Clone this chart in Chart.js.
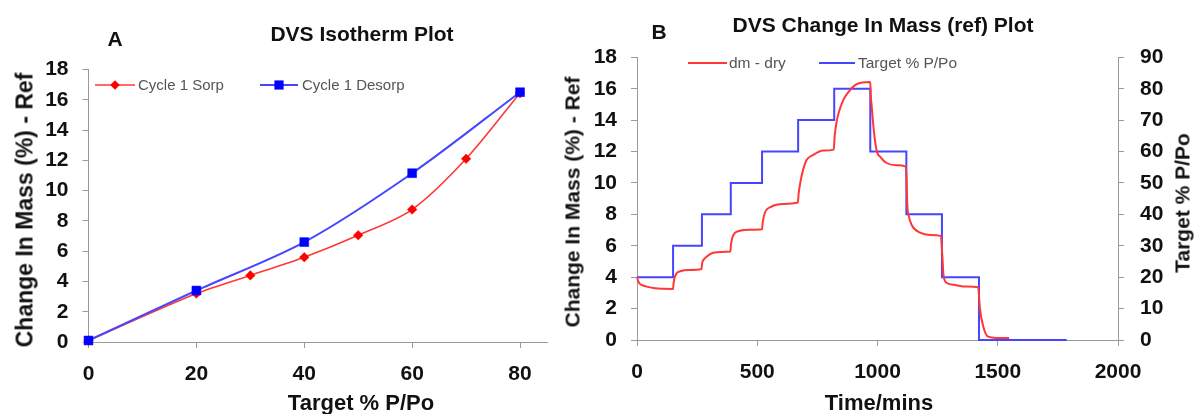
<!DOCTYPE html>
<html>
<head>
<meta charset="utf-8">
<script src="https://cdn.jsdelivr.net/npm/chart.js@4.4.1/dist/chart.umd.min.js"></script>
<style>
  html, body { margin: 0; padding: 0; background: #ffffff; }
  #wrap { position: relative; width: 1195px; height: 414px; overflow: hidden; background: #fff; }
  canvas { position: absolute; top: 0; }
  .t { position: absolute; font-family: "Liberation Sans", Arial, sans-serif; font-weight: bold; color: #111;
       white-space: nowrap; line-height: 1; transform: translate(-50%, -50%); }
  .rot { transform: translate(-50%, -50%) rotate(-90deg); }
</style>
</head>
<body>
<div id="wrap">
  <canvas id="c1" width="560" height="414" style="left:0px"></canvas>
  <canvas id="c2" width="635" height="414" style="left:560px"></canvas>
  <div class="t" style="left:115px;top:38px;font-size:21px">A</div>
  <div class="t" style="left:362px;top:33px;font-size:21px">DVS Isotherm Plot</div>
  <div class="t" style="left:361px;top:403px;font-size:22px">Target % P/Po</div>
  <div class="t rot" style="left:25px;top:210px;font-size:23px">Change In Mass (%) - Ref</div>
  <div class="t" style="left:659px;top:31px;font-size:21px">B</div>
  <div class="t" style="left:883px;top:24px;font-size:21px">DVS Change In Mass (ref) Plot</div>
  <div class="t" style="left:879px;top:403px;font-size:22px">Time/mins</div>
  <div class="t rot" style="left:572px;top:202px;font-size:21px">Change In Mass (%) - Ref</div>
  <div class="t rot" style="left:1182px;top:203px;font-size:21px">Target % P/Po</div>
</div>
<script>
// ---------- Data: chart A (isotherm) ----------
const sorpRH    = [0, 20, 30, 40, 50, 60, 70, 80];
const sorpMass  = [0.1, 3.2, 4.4, 5.6, 7.05, 8.75, 12.1, 16.45];
const desorpRH   = [80, 60, 40, 20, 0];
const desorpMass = [16.5, 11.15, 6.6, 3.4, 0.1];

// ---------- Data: chart B (kinetic) ----------
const dmTime = [0, 5, 12, 25, 40, 75, 110, 150, 152, 156, 165, 180, 214, 268,
  271, 279, 289, 317, 350, 388, 391, 396, 406, 428, 470, 520, 523, 531, 559, 608, 669,
  672, 680, 690, 705, 732, 774, 818, 822, 830, 838, 858, 880, 908, 936, 970,
  972, 976, 985, 996, 1015, 1038, 1080, 1118, 1121, 1124, 1130, 1142, 1177, 1218, 1264,
  1267, 1271, 1274, 1287, 1322, 1371, 1419, 1422, 1426, 1440, 1460, 1494, 1547];
const dmMass = [4.0, 3.75, 3.57, 3.47, 3.4, 3.29, 3.26, 3.25, 3.6, 3.95, 4.25, 4.38, 4.46, 4.52,
  4.9, 5.15, 5.3, 5.56, 5.6, 5.63, 6.1, 6.5, 6.8, 6.96, 7.02, 7.05, 7.5, 8.07, 8.49, 8.66, 8.75,
  9.3, 10.1, 10.8, 11.46, 11.78, 12.06, 12.12, 13.0, 13.9, 14.44, 15.29, 15.8, 16.24, 16.39, 16.42,
  15.6, 14.86, 13.3, 12.1, 11.6, 11.27, 11.12, 11.04, 10.2, 8.6, 7.9, 7.32, 6.83, 6.69, 6.62,
  6.0, 5.0, 4.2, 3.65, 3.5, 3.4, 3.36, 2.8, 2.0, 0.85, 0.21, 0.13, 0.13];
const stepTime   = [0, 150, 270, 390, 520, 670, 820, 970, 1120, 1268, 1422, 1787];
const stepTarget = [20, 30, 40, 50, 60, 70, 80, 60, 40, 20, 0, 0];

// ---------- Tick settings ----------
const ticksA_x = { min: 0, max: 85, step: 20 };
const ticksA_y = { min: 0, max: 18, step: 2 };
const ticksB_x = { min: 0, max: 2000, step: 500 };
const ticksB_y = { min: 0, max: 18, step: 2 };
const ticksB_y2 = { min: 0, max: 90, step: 10 };

const zip = (xs, ys) => xs.map((x, i) => ({ x: x, y: ys[i] }));

const AXIS = '#9a9a9a';
const TICKFONT = { family: '"Liberation Sans", Arial, sans-serif', size: 21, weight: 'bold' };
const RED_LINE = 'rgb(255,55,55)';
const BLUE_LINE = 'rgb(70,70,255)';

function axis(t, extra, pad) {
  return Object.assign({
    type: 'linear', min: t.min, max: t.max,
    ticks: { stepSize: t.step, includeBounds: false, font: TICKFONT, color: '#111', padding: pad || 14,
             callback: (v) => String(v) },
    grid: { display: true, drawOnChartArea: false, drawTicks: true, tickLength: 6, color: AXIS },
    border: { display: true, color: AXIS, width: 1 }
  }, extra);
}

const inlineLegend = {
  id: 'inlineLegend',
  afterDraw(chart, args, opts) {
    if (!opts || !opts.items) return;
    const ctx = chart.ctx;
    ctx.save();
    opts.items.forEach(it => {
      const ds = chart.data.datasets[it.index];
      const y = opts.y;
      ctx.strokeStyle = ds.borderColor;
      ctx.lineWidth = ds.borderWidth;
      ctx.beginPath(); ctx.moveTo(it.x0, y); ctx.lineTo(it.x1, y); ctx.stroke();
      if (it.marker) {
        const cx = (it.x0 + it.x1) / 2;
        ctx.fillStyle = ds.pointBackgroundColor;
        ctx.beginPath();
        if (it.marker === 'diamond') {
          const r = 4.8;
          ctx.moveTo(cx, y - r); ctx.lineTo(cx + r, y); ctx.lineTo(cx, y + r); ctx.lineTo(cx - r, y); ctx.closePath();
        } else {
          const h = 4.6;
          ctx.rect(cx - h, y - h, 2 * h, 2 * h);
        }
        ctx.fill();
      }
      ctx.fillStyle = opts.color;
      ctx.font = opts.font;
      ctx.textBaseline = 'middle';
      ctx.fillText(ds.label, it.tx, y + 1);
    });
    ctx.restore();
  }
};

// ---------- Chart A ----------
new Chart(document.getElementById('c1'), {
  type: 'line',
  data: {
    datasets: [
      { label: 'Cycle 1 Sorp', data: zip(sorpRH, sorpMass), borderColor: RED_LINE, borderWidth: 1.6,
        pointStyle: 'rectRot', pointRadius: 4.8, pointBackgroundColor: '#ff0000', pointBorderColor: '#ff0000',
        pointBorderWidth: 0.5, tension: 0.3, fill: false, order: 2, clip: false },
      { label: 'Cycle 1 Desorp', data: zip(desorpRH, desorpMass), borderColor: BLUE_LINE, borderWidth: 2,
        pointStyle: 'rect', pointRadius: 6.3, pointBackgroundColor: '#0000ff', pointBorderColor: '#0000ff',
        pointBorderWidth: 0.5, tension: 0.3, fill: false, order: 1, clip: false }
    ]
  },
  options: {
    responsive: false, animation: false, devicePixelRatio: 1,
    layout: { padding: { top: 69.5, right: 13, left: 0, bottom: 0 } },
    plugins: {
      legend: { display: false }, tooltip: { enabled: false },
      inlineLegend: {
        y: 85, color: '#555', font: '15px "Liberation Sans", Arial, sans-serif',
        items: [ { index: 0, x0: 95, x1: 135, tx: 138, marker: 'diamond' },
                 { index: 1, x0: 260, x1: 298, tx: 302, marker: 'square' } ]
      }
    },
    scales: {
      x: axis(ticksA_x, { afterFit(s) { s.height = 72; } }),
      y: axis(ticksA_y, { afterFit(s) { s.width = 88.5; } })
    }
  },
  plugins: [inlineLegend]
});

// ---------- Chart B ----------
new Chart(document.getElementById('c2'), {
  type: 'line',
  data: {
    datasets: [
      { label: 'dm - dry', data: zip(dmTime, dmMass), borderColor: RED_LINE, borderWidth: 2,
        pointRadius: 0, cubicInterpolationMode: 'monotone', fill: false, yAxisID: 'y', order: 1, clip: false },
      { label: 'Target % P/Po', data: zip(stepTime, stepTarget), borderColor: BLUE_LINE, borderWidth: 2,
        pointRadius: 0, stepped: true, fill: false, yAxisID: 'y2', order: 2, clip: false }
    ]
  },
  options: {
    responsive: false, animation: false, devicePixelRatio: 1,
    layout: { padding: { top: 57.3, right: 0, left: 0, bottom: 0 } },
    plugins: {
      legend: { display: false }, tooltip: { enabled: false },
      inlineLegend: {
        y: 63, color: '#555', font: '15.5px "Liberation Sans", Arial, sans-serif',
        items: [ { index: 0, x0: 128, x1: 167, tx: 169 },
                 { index: 1, x0: 259, x1: 295, tx: 298 } ]
      }
    },
    scales: {
      x: axis(ticksB_x, { afterFit(s) { s.height = 74; } }),
      y: axis(ticksB_y, { position: 'left', afterFit(s) { s.width = 77; } }),
      y2: axis(ticksB_y2, { position: 'right', afterFit(s) { s.width = 77; } }, 16)
    }
  },
  plugins: [inlineLegend]
});
</script>
</body>
</html>
